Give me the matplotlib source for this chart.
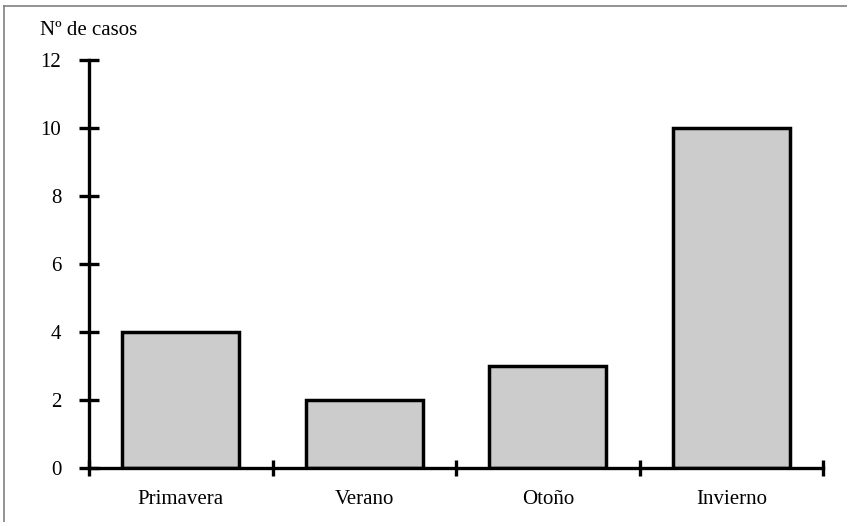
import matplotlib
matplotlib.use('Agg')
import matplotlib.pyplot as plt
from matplotlib.lines import Line2D
import numpy as np

# Casos por estación
estaciones = ['Primavera', 'Verano', 'Otoño', 'Invierno']
casos = [4, 2, 3, 10]
y_ticks = [0, 2, 4, 6, 8, 10, 12]

plt.rcParams['font.family'] = ['Liberation Serif', 'DejaVu Serif']

fig = plt.figure(figsize=(8.47, 5.22), dpi=100)
ax = fig.add_axes([89 / 847, 1 - 468 / 522, (823 - 89) / 847, (468 - 60) / 522])

x = np.arange(len(estaciones)) + 0.5
ax.bar(x, casos, width=0.64, color='#cccccc', edgecolor='black', linewidth=2.5, zorder=3)

ax.set_xlim(0, len(estaciones))
ax.set_ylim(0, 12)

# Y axis: ticks crossing the axis line
ax.set_yticks(y_ticks)
ax.tick_params(axis='y', direction='inout', length=14, width=2.4, pad=13, labelsize=15)

# X axis: labels at centres, crossing ticks at category boundaries
ax.set_xticks(x)
ax.set_xticklabels(estaciones)
ax.set_xticks(np.arange(len(estaciones) + 1), minor=True)
ax.tick_params(axis='x', which='major', length=0, pad=16, labelsize=15)
ax.tick_params(axis='x', which='minor', direction='inout', length=12, width=2.4)

for side in ['top', 'right']:
    ax.spines[side].set_visible(False)
for side in ['left', 'bottom']:
    ax.spines[side].set_linewidth(2.4)
    ax.spines[side].set_zorder(4)

fig.text(40 / 847, 1 - 35 / 522, 'Nº de casos', fontsize=15, va='baseline', ha='left')

# Thin grey frame (top and left edges)
fig.add_artist(Line2D([4 / 847, 1], [1 - 6 / 522, 1 - 6 / 522], transform=fig.transFigure,
                      color='#808080', linewidth=1.2))
fig.add_artist(Line2D([4 / 847, 4 / 847], [0, 1 - 6 / 522], transform=fig.transFigure,
                      color='#808080', linewidth=1.2))

fig.savefig('out.png', dpi=100)
